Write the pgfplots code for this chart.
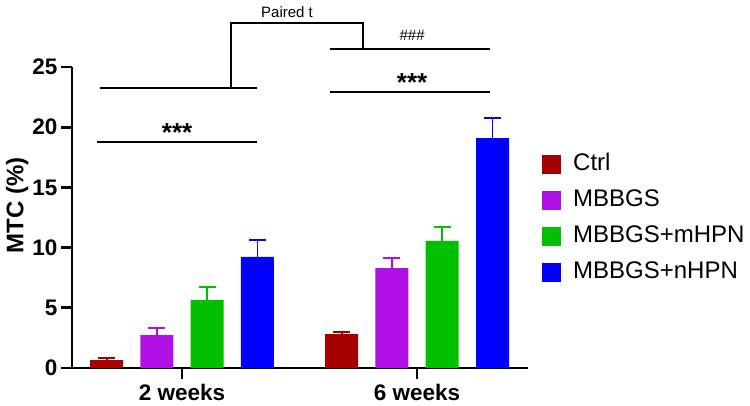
\documentclass[border=0pt]{standalone}
\usepackage{pgfplots}
\pgfplotsset{compat=1.18}
\usepackage{fontspec}
\setmainfont{Liberation Sans}

\definecolor{cctrl}{RGB}{165,0,0}
\definecolor{cmbbgs}{RGB}{176,16,228}
\definecolor{cmhpn}{RGB}{0,192,0}
\definecolor{cnhpn}{RGB}{0,0,255}

\pgfplotsset{
  errbar/.style={
    error bars/.cd, y dir=plus, y explicit,
    error bar style={line width=1.9pt, color=#1},
    error mark options={rotate=90, mark size=8.5pt, line width=1.9pt, color=#1},
  },
}

\begin{document}
\begin{tikzpicture}
\useasboundingbox (-72pt,-38pt) rectangle (678pt,368pt);
\begin{axis}[
  at={(0,0)}, anchor=south west,
  scale only axis, width=456pt, height=301pt,
  xmin=-0.468, xmax=1.472, ymin=0, ymax=25,
  axis x line=bottom, axis y line=left,
  axis line style={line width=2.7pt, -},
  ybar, bar width=0.1404,
  % square swatch followed by a small gap before the entry text
  legend image code/.code={\fill[#1] (0pt,-9.5pt) rectangle (19pt,9.5pt); \path (31pt,0pt);},
  xtick={0,1}, xticklabels={2 weeks,6 weeks},
  ytick={0,5,...,25},
  tick align=outside, major tick length=11pt,
  tick style={line width=2.7pt, black},
  ticklabel style={font=\fontsize{22.5}{24}\selectfont\bfseries},
  xticklabel style={yshift=-1.5pt},
  /pgf/number format/assume math mode=true,
  ylabel={MTC (\%)},
  ylabel style={font=\fontsize{24}{26}\selectfont\bfseries, at={(axis description cs:-0.12,0.54)}, anchor=center},
  clip=false,
  legend style={at={(1.0307,0.7126)}, anchor=north west, draw=none, fill=none,
    font=\fontsize{24}{26}\selectfont, row sep=14pt, inner sep=0pt,
    nodes={inner sep=0pt, text height=17pt, text depth=5pt}},
  legend cell align=left,
]
% Ctrl
\addplot[fill=cctrl, draw=none, bar shift=-0.321, errbar=cctrl]
  coordinates {(0,0.66) +- (0,0.17) (1,2.82) +- (0,0.18)};
% MBBGS
\addplot[fill=cmbbgs, draw=none, bar shift=-0.107, errbar=cmbbgs]
  coordinates {(0,2.74) +- (0,0.56) (1,8.30) +- (0,0.84)};
% MBBGS+mHPN
\addplot[fill=cmhpn, draw=none, bar shift=0.107, errbar=cmhpn]
  coordinates {(0,5.65) +- (0,1.05) (1,10.55) +- (0,1.15)};
% MBBGS+nHPN
\addplot[fill=cnhpn, draw=none, bar shift=0.321, errbar=cnhpn]
  coordinates {(0,9.22) +- (0,1.41) (1,19.10) +- (0,1.65)};
\legend{Ctrl, MBBGS, MBBGS+mHPN, MBBGS+nHPN}

% significance brackets
\draw[line width=2.7pt] (axis cs:-0.362,18.77) -- (axis cs:0.319,18.77);
\node[anchor=base, font=\fontsize{26}{26}\selectfont\bfseries] at (axis cs:-0.021,18.85) {***};
\draw[line width=2.7pt] (axis cs:-0.349,23.26) -- (axis cs:0.319,23.26);
\draw[line width=2.7pt] (axis cs:0.2085,23.26) -- (axis cs:0.2085,28.65) -- (axis cs:0.770,28.65) -- (axis cs:0.770,26.50);
\draw[line width=2.7pt] (axis cs:0.630,26.50) -- (axis cs:1.311,26.50);
\draw[line width=2.7pt] (axis cs:0.630,22.92) -- (axis cs:1.311,22.92);
\node[anchor=base, font=\fontsize{26}{26}\selectfont\bfseries] at (axis cs:0.979,23.00) {***};
\node[font=\fontsize{15}{15}\selectfont] at (axis cs:0.979,27.6) {\#\#\#};
\node[font=\fontsize{15}{15}\selectfont] at (axis cs:0.447,29.57) {Paired t};
\end{axis}
\end{tikzpicture}
\end{document}
